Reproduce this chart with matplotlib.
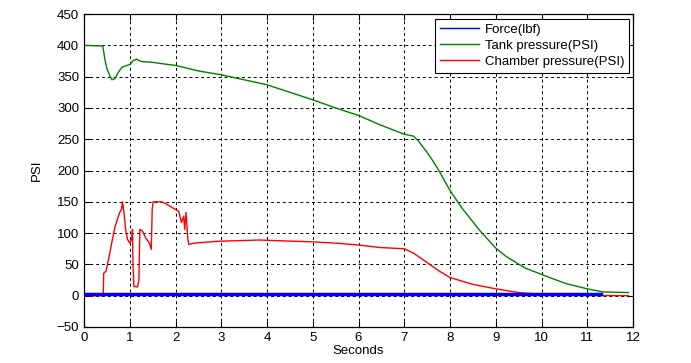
import numpy as np
from matplotlib import pyplot as plt

# values
force_t = [0.0, 11.3]
force_v = [2.5, 2.5]

# green curve (legend calls it "Tank pressure")
tank_t = [0.0, 0.41, 0.46, 0.50, 0.56, 0.61, 0.68, 0.75, 0.83, 0.94, 1.01, 1.08,
          1.16, 1.19, 1.27, 1.49, 1.78, 2.0, 2.51, 3.0, 3.5, 4.0, 4.5, 5.0, 5.5,
          6.0, 6.47, 7.0, 7.2, 7.3, 7.49, 7.63, 7.78, 8.0, 8.13, 8.25, 8.49,
          8.64, 9.0, 9.22, 9.51, 9.65, 10.0, 10.25, 10.55, 11.0, 11.34, 11.9]
tank_v = [400, 399, 376, 363, 352, 345, 347, 357, 365, 368, 370, 376,
          378, 376, 374, 373, 370, 368, 359, 353, 345, 337, 325, 313, 300,
          288, 273, 258, 255, 248, 230, 215, 197, 168, 154, 141, 119,
          105, 76, 63, 50, 44, 34, 27, 19, 11, 6, 5]

# red curve (legend calls it "Chamber pressure")
chamber_t = [0.0, 0.42, 0.43, 0.48, 0.55, 0.62, 0.68, 0.73, 0.78, 0.82, 0.84,
             0.87, 0.91, 0.95, 1.0, 1.04, 1.06, 1.07, 1.09, 1.17, 1.20, 1.22,
             1.28, 1.35, 1.43, 1.47, 1.49, 1.51, 1.70, 1.81, 1.92, 2.07, 2.13,
             2.18, 2.20, 2.23, 2.27, 2.29, 2.4, 2.94, 3.4, 3.82, 4.2, 4.6,
             5.0, 5.5, 6.0, 6.47, 7.0, 7.2, 7.5, 7.75, 8.0, 8.5, 9.0, 9.5,
             10.0, 10.5, 11.0, 11.9]
chamber_v = [0, 0, 36, 39, 63, 90, 111, 122, 133, 138, 150,
             135, 106, 90, 84, 90, 106, 50, 15, 14, 25, 106,
             103, 92, 84, 74, 138, 150, 150, 146, 141, 135, 117,
             127, 106, 133, 90, 82, 84, 87, 88, 89, 88, 87,
             86, 84, 81, 77, 75, 68, 53, 40, 29, 18, 11, 5,
             2, 1, 0.5, 0]

x_ticks = list(range(0, 13))
y_ticks = list(range(-50, 451, 50))

plt.rcParams['font.family'] = ['Liberation Sans', 'DejaVu Sans']
plt.rcParams['font.size'] = 9.5

fig = plt.figure(figsize=(6.91, 3.63), dpi=100)
ax = fig.add_axes([0.1216, 0.0992, 0.7945, 0.862])

ax.plot(force_t, force_v, color='blue', linewidth=2.5, label='Force(lbf)', zorder=3)
ax.plot(tank_t, tank_v, color='green', linewidth=1.0, label='Tank pressure(PSI)', zorder=2)
ax.plot(chamber_t, chamber_v, color='red', linewidth=1.0, label='Chamber pressure(PSI)', zorder=2)

ax.set_xlim(0, 12)
ax.set_ylim(-50, 450)
ax.set_xticks(x_ticks)
ax.set_yticks(y_ticks)
ax.grid(True, color='black', linestyle=(0, (3, 3)), linewidth=0.7)
ax.tick_params(direction='in', top=True, right=True, length=4, width=0.8)
for s in ax.spines.values():
    s.set_linewidth(0.9)

ax.set_xlabel('Seconds', labelpad=1)
ax.set_ylabel('PSI', labelpad=10)

leg = ax.legend(loc='upper right', bbox_to_anchor=(0.992, 0.985), fancybox=False,
                framealpha=1, edgecolor='black', handlelength=3.0,
                labelspacing=0.3, borderpad=0.35, handletextpad=0.4,
                borderaxespad=0)
leg.get_frame().set_linewidth(0.8)
for line in leg.get_lines():
    line.set_linewidth(1.0)

plt.savefig('out.png', dpi=100)
